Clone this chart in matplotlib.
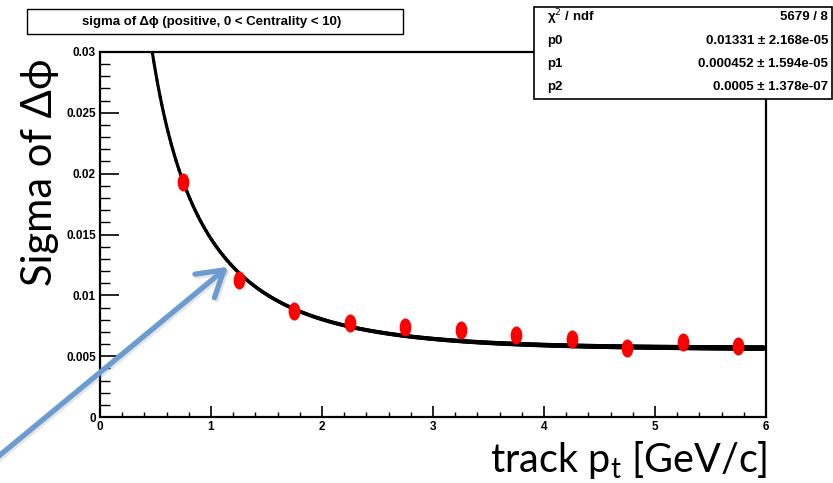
import numpy as np
import matplotlib
matplotlib.use("Agg")
import matplotlib.pyplot as plt
from matplotlib.path import Path
from matplotlib.collections import LineCollection
from matplotlib.patches import FancyArrowPatch, Rectangle

# ---------------- data ----------------
pt_centers = [0.75, 1.25, 1.75, 2.25, 2.75, 3.25, 3.75, 4.25, 4.75, 5.25, 5.75]
sigma_dphi = [0.0193, 0.01126, 0.00871, 0.00773, 0.0074, 0.00715, 0.00674,
              0.00641, 0.00567, 0.00616, 0.00584]

# fitted curve (shape)
fit_a = 0.01995
fit_n = 0.762
fit_k = 0.793
fit_c = 0.00562
fit_range = (0.30, 5.98)

stat_names = ["\u03c7$^{2}$ / ndf", "p0", "p1", "p2"]
stat_values = ["5679 / 8", "0.01331 \u00b1 2.168e-05", "0.000452 \u00b1 1.594e-05",
               "0.0005 \u00b1 1.378e-07"]

x_ticks = [0, 1, 2, 3, 4, 5, 6]
y_ticks = [0, 0.005, 0.01, 0.015, 0.02, 0.025, 0.03]
y_ticklabels = ["0", "0.005", "0.01", "0.015", "0.02", "0.025", "0.03"]

title_text = "sigma of \u0394\u03d5 (positive, 0 < Centrality < 10)"
ylabel_text = "Sigma of \u0394\u03d5"
xlabel_text = "track p$_{\\mathregular{t}}$ [GeV/c]"

# ---------------- figure ----------------
W, H = 833, 483
fig = plt.figure(figsize=(W / 100, H / 100), dpi=100)
ax = fig.add_axes([100 / W, 1 - 417 / H, 666 / W, 365 / H])

NARROW = ["Liberation Sans Narrow", "Liberation Sans", "DejaVu Sans"]
CAL = ["Lato", "DejaVu Sans"]

ax.set_xlim(0, 6)
ax.set_ylim(0, 0.03)

# curve with growing thickness
xs = np.linspace(fit_range[0], fit_range[1], 400)
ys = fit_c + fit_a * xs ** (-fit_n) * np.exp(-fit_k * xs)
pts = np.column_stack([xs, ys]).reshape(-1, 1, 2)
segs = np.concatenate([pts[:-1], pts[1:]], axis=1)
lws = np.linspace(2.2, 4.0, len(segs))
lc = LineCollection(segs, colors="black", linewidths=lws, capstyle="round",
                    joinstyle="round", zorder=3)
ax.add_collection(lc)

# ellipse markers
circ = Path.unit_circle()
ell = Path(circ.vertices * np.array([0.62, 1.0]), circ.codes)
ax.plot(pt_centers, sigma_dphi, linestyle="none", marker=ell, markersize=12,
        color="#ff0000", markeredgecolor="#ff0000", zorder=4)

# axes styling
for s in ax.spines.values():
    s.set_linewidth(1.6)
    s.set_color("black")
ax.set_xticks(x_ticks)
ax.set_xticklabels([str(v) for v in x_ticks])
ax.set_yticks(y_ticks)
ax.set_yticklabels(y_ticklabels)
ax.set_xticks(np.arange(0, 6.01, 0.2), minor=True)
ax.set_yticks(np.arange(0, 0.03001, 0.001), minor=True)
ax.tick_params(axis="x", which="major", direction="in", length=8, width=1.2,
               pad=3, top=False)
ax.tick_params(axis="x", which="minor", direction="in", length=3.8, width=1.0,
               top=False)
ax.tick_params(axis="y", which="major", direction="in", length=14, width=1.2,
               pad=3, right=False)
ax.tick_params(axis="y", which="minor", direction="in", length=7, width=1.0,
               right=False)
for lab in ax.get_xticklabels() + ax.get_yticklabels():
    lab.set_family(NARROW)
    lab.set_fontweight("bold")
    lab.set_fontsize(8.5)

# axis labels
fig.text(767 / W, 1 - 472 / H, xlabel_text, ha="right", va="baseline",
         fontsize=28.5, family=CAL)
fig.text(40 / W, 1 - 172 / H, ylabel_text, ha="center", va="center",
         rotation=90, fontsize=30, family=CAL)

# title box
fig.patches.append(Rectangle((27 / W, 1 - 34 / H), 376 / W, 25 / H,
                             transform=fig.transFigure, facecolor="white",
                             edgecolor="black", linewidth=1.0, zorder=5))
fig.text(212 / W, 1 - 21.5 / H, title_text, ha="center", va="center",
         fontsize=9.5, fontweight="bold", family=NARROW, zorder=6)

# stats box
fig.patches.append(Rectangle((534 / W, 1 - 99 / H), 298 / W, 92 / H,
                             transform=fig.transFigure, facecolor="white",
                             edgecolor="black", linewidth=1.2, zorder=5))
row_y = [17, 41, 64, 87]
for name, val, yy in zip(stat_names, stat_values, row_y):
    fig.text(547 / W, 1 - yy / H, name, ha="left", va="center", fontsize=9.5,
             fontweight="bold", family=NARROW, zorder=6)
    fig.text(828 / W, 1 - yy / H, val, ha="right", va="center", fontsize=9.5,
             fontweight="bold", family=NARROW, zorder=6)

# blue arrow (with soft shadow)
start = (-6 / W, 1 - 460 / H)
tip = (230 / W, 1 - 265 / H)
for dx, dy, col, z in [(2.0, -2.0, (0.6, 0.6, 0.6, 0.25), 7),
                       (0, 0, "#6a9bd1", 8)]:
    arr = FancyArrowPatch((start[0] + dx / W, start[1] + dy / H),
                          (tip[0] + dx / W, tip[1] + dy / H),
                          transform=fig.transFigure,
                          arrowstyle="->,head_length=0.9,head_width=0.55",
                          color=col, linewidth=3.8, capstyle="round",
                          joinstyle="round", mutation_scale=20, zorder=z)
    fig.patches.append(arr)

fig.savefig("out.png", dpi=100)
